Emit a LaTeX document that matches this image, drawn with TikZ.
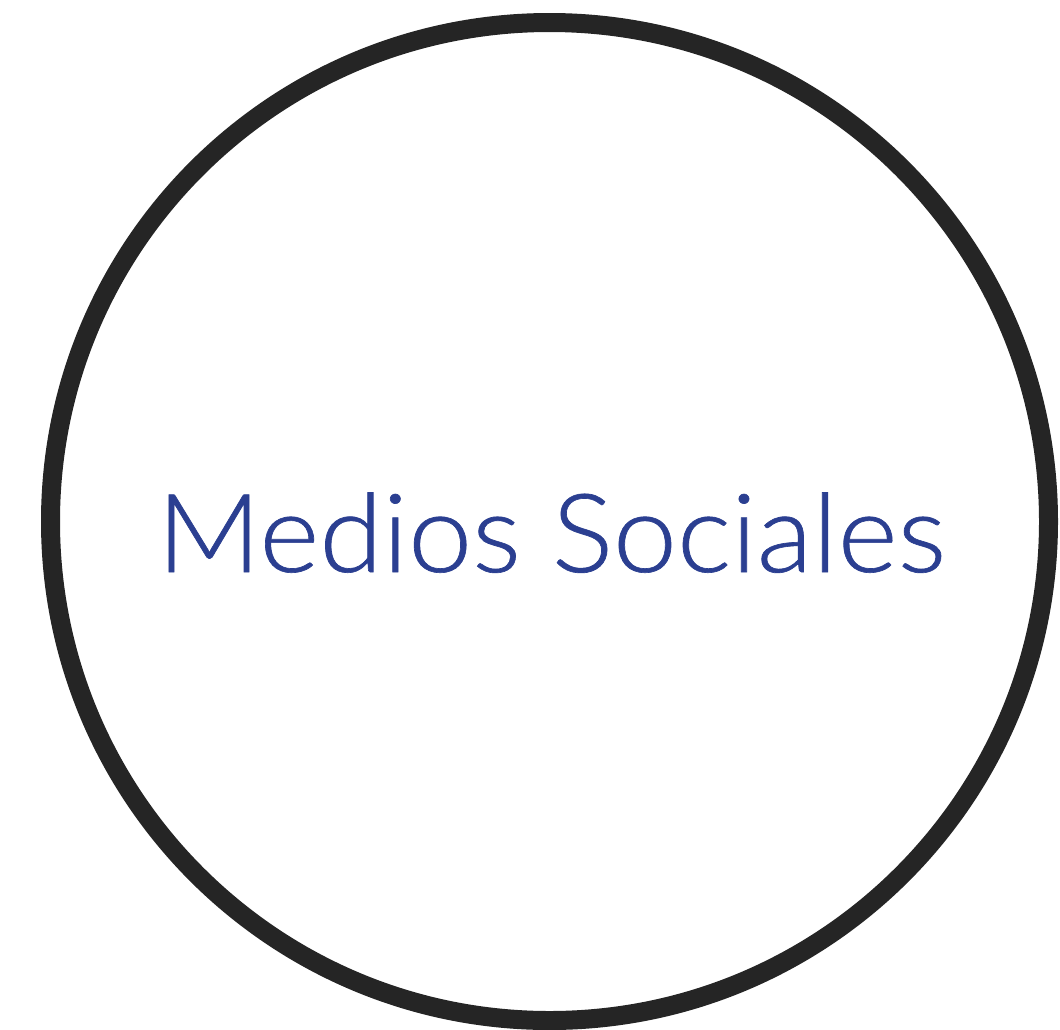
\documentclass[tikz,border=0pt]{standalone}
\usepackage{fontspec}
\setmainfont{Lato Light}[FakeBold=0.6]
\definecolor{ring}{HTML}{252525}
\definecolor{txt}{HTML}{2B3F91}
\tikzset{ringstyle/.style={circle,draw=ring,line width=14.25pt,minimum size=748.5pt,inner sep=0pt},
labelstyle/.style={text=txt,font=\fontsize{82}{90}\selectfont,inner sep=0pt,anchor=base,xscale=1.05}}
\begin{document}
\begin{tikzpicture}[x=0.75pt,y=-0.75pt]
\useasboundingbox (0,0) rectangle (1060,1029);
\node[ringstyle] (c) at (549.5,521.5) {};
\node[labelstyle] (t) at (551.5,572) {Medios Sociales};
\end{tikzpicture}
\end{document}
